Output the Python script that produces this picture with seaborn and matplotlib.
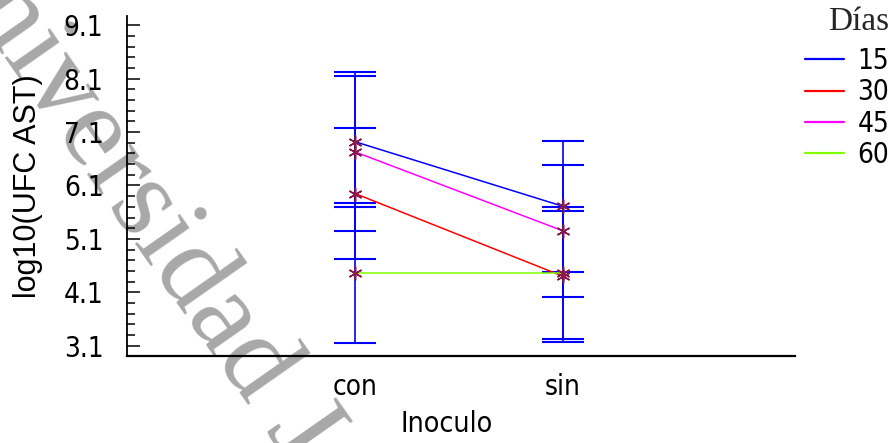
import numpy as np
import pandas as pd
import matplotlib
matplotlib.use("Agg")
import matplotlib.pyplot as plt
from matplotlib.lines import Line2D
from matplotlib.ticker import FixedLocator
import seaborn as sns

# Means of log10(UFC AST) per inoculum level, one list per sampling day
inoculo = ["con", "sin"]
dias = ["15", "30", "45", "60"]
media_15 = [6.92, 5.71]
media_30 = [5.95, 4.40]
media_45 = [6.73, 5.25]
media_60 = [4.46, 4.46]
# Half-widths of the intervals around each mean
semi_15 = [1.23, 1.23]
semi_30 = [1.23, 1.23]
semi_45 = [1.49, 1.23]
semi_60 = [1.31, 1.23]
y_ticks = [3.1, 4.1, 5.1, 6.1, 7.1, 8.1, 9.1]
y_tick_labels = ["3.1", "4.1", "5.1", "6.1", "7.1", "8.1", "9.1"]

medias = {"15": media_15, "30": media_30, "45": media_45, "60": media_60}
semis = {"15": semi_15, "30": semi_30, "45": semi_45, "60": semi_60}
colores = {"15": "#0000FF", "30": "#FF0000", "45": "#FF00FF", "60": "#80FF00"}

rows = []
for d in dias:
    for i, lvl in enumerate(inoculo):
        rows.append({"Inoculo": lvl, "Días": d, "media": medias[d][i], "semi": semis[d][i]})
df = pd.DataFrame(rows)

sns.set_theme(style="white")
narrow = ["DejaVu Sans Condensed", "DejaVu Sans"]
plt.rcParams["font.family"] = narrow
plt.rcParams["font.stretch"] = "condensed"

fig = plt.figure(figsize=(8.92, 4.43), dpi=100)
ax = fig.add_axes([127 / 892, 1 - 356 / 443, (795 - 127) / 892, (356 - 16) / 443])
ax.set_facecolor("none")

# background lettering
fig.text(-79 / 892, 1 + 62 / 443, "Universidad J", fontsize=84,
         family=["Liberation Serif", "DejaVu Serif"], color="#A8A8A8",
         rotation=-55, rotation_mode="anchor", ha="left", va="baseline", zorder=-5)

# interval bars around each mean
for d in dias:
    sub = df[df["Días"] == d]
    ax.errorbar(np.arange(len(inoculo)), sub["media"], yerr=sub["semi"], fmt="none",
                ecolor="#0000FF", elinewidth=1.2, capsize=15, capthick=1.5, zorder=2)

n_before = len(ax.lines)
sns.pointplot(data=df, x="Inoculo", y="media", hue="Días", hue_order=dias,
              order=inoculo, palette=colores, errorbar=None, dodge=False,
              linewidth=1.1, legend=False, ax=ax)
for ln in ax.lines[n_before:]:
    ln.set_marker((6, 2, 0))
    ln.set_markersize(10)
    ln.set_markeredgewidth(1.1)
    ln.set_markeredgecolor("#8B1A4B")
    ln.set_markerfacecolor("#8B1A4B")
    ln.set_zorder(3)

ax.set_xlim(-1.096, 2.115)
ax.set_ylim(2.907, 9.274)

ax.yaxis.set_major_locator(FixedLocator(y_ticks))
ax.set_yticklabels(y_tick_labels)
ax.yaxis.set_minor_locator(FixedLocator(np.round(np.arange(3.1, 9.11, 0.2), 2)))
ax.tick_params(axis="y", which="major", direction="in", length=9.5, width=1.1,
               color="black", labelsize=20, pad=17, left=True)
ax.tick_params(axis="y", which="minor", direction="in", length=6, width=1.1,
               color="black", left=True)
ax.tick_params(axis="x", which="both", length=0, labelsize=20, pad=12)
for t in ax.get_xticklabels() + ax.get_yticklabels():
    t.set_color("black")

for s in ["top", "right"]:
    ax.spines[s].set_visible(False)
ax.spines["left"].set_linewidth(1.3)
ax.spines["bottom"].set_linewidth(1.6)
ax.spines["left"].set_color("black")
ax.spines["bottom"].set_color("black")

ax.set_xlabel("Inoculo", fontsize=20.5, color="black")
ax.xaxis.set_label_coords(0.479, -0.158)
ax.set_ylabel("log10(UFC AST)", fontsize=22, family=["Liberation Sans", "DejaVu Sans"],
              fontstretch="normal", color="black")
ax.yaxis.set_label_coords(-0.125, 0.5)

handles = [Line2D([], [], color=colores[d], lw=1.6) for d in dias]
leg = ax.legend(handles, dias, title="Días", loc="upper right",
                bbox_to_anchor=(1.0, 1 - 4 / 443), bbox_transform=fig.transFigure,
                frameon=False, fontsize=20, handlelength=1.4, handletextpad=0.5,
                labelspacing=0.12, borderpad=0.1, borderaxespad=0.0,
                alignment="right",
                title_fontproperties={"family": ["Liberation Serif", "DejaVu Serif"],
                                      "size": 24, "stretch": "normal"})
leg._legend_box.sep = 7
for t in leg.get_texts():
    t.set_color("black")

fig.savefig("out.png", dpi=100)
